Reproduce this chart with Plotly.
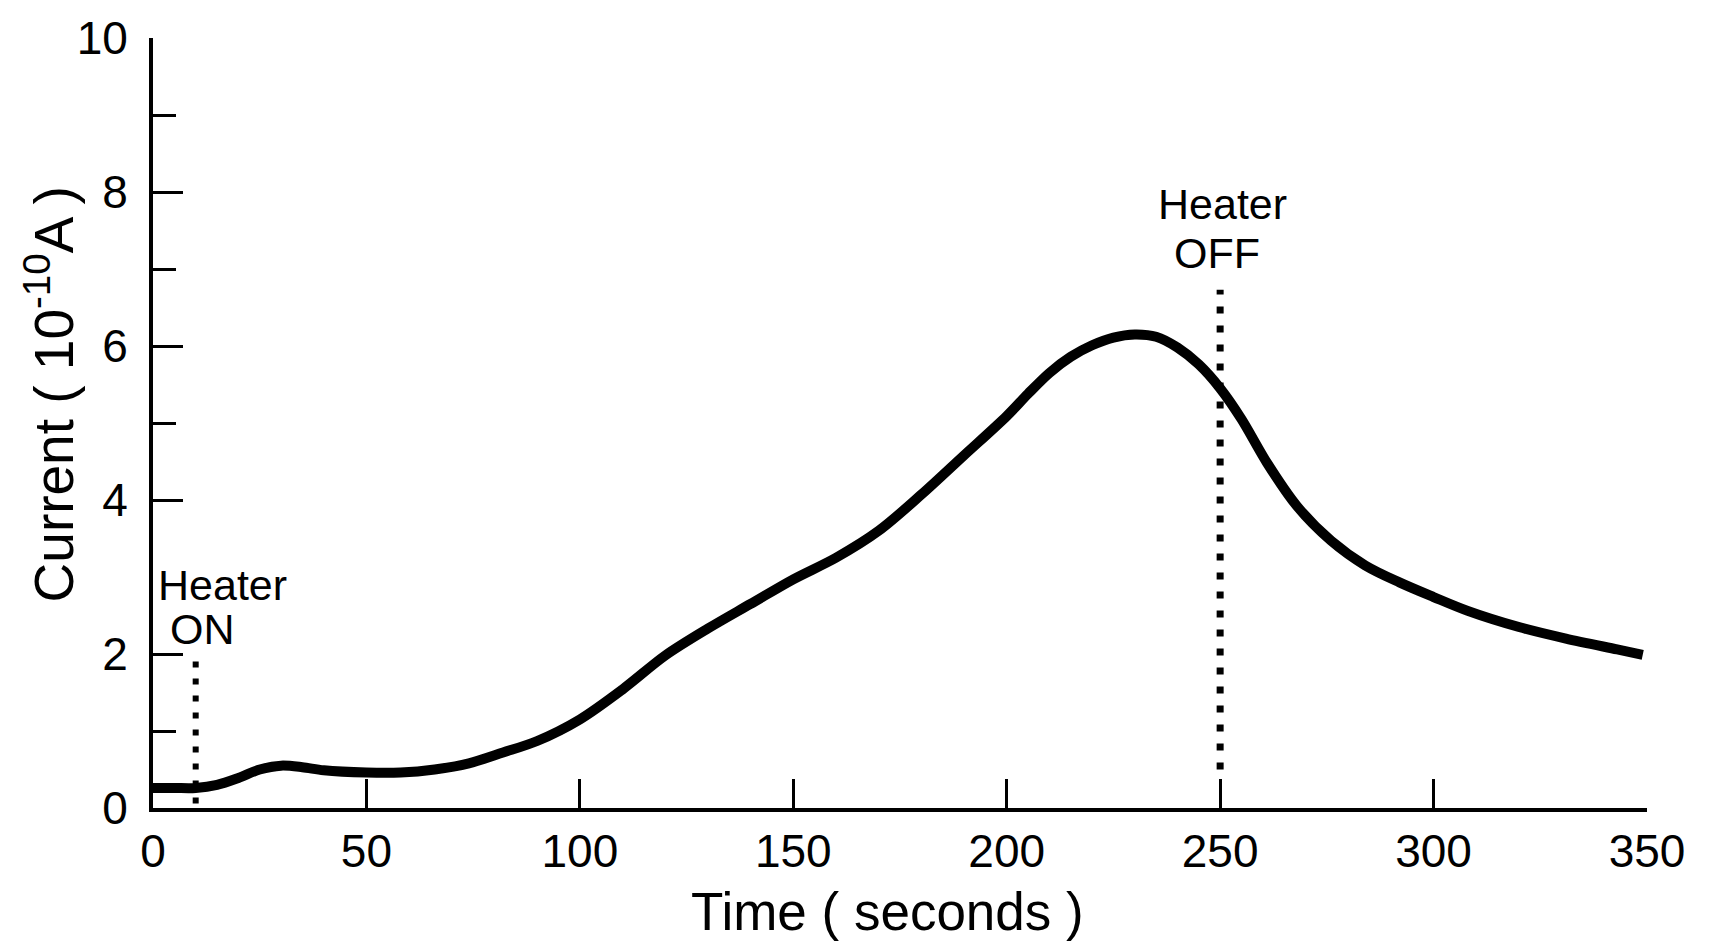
import plotly.graph_objects as go

# Ion current trace recorded while the filament heater is switched on and off
time_s = [0, 5, 10, 15, 20, 25, 30, 35, 40, 50, 58, 66, 74, 82, 90, 100, 110,
          120, 130, 140, 150, 160, 170, 180, 190, 200, 205, 210, 215, 220, 225,
          230, 235, 240, 245, 250, 255, 261, 268, 276, 284, 292, 300, 308, 320,
          331, 343, 349]
current = [0.26, 0.26, 0.26, 0.30, 0.39, 0.50, 0.55, 0.53, 0.49, 0.46, 0.46,
           0.50, 0.58, 0.72, 0.87, 1.15, 1.54, 1.98, 2.33, 2.65, 2.97, 3.25,
           3.60, 4.07, 4.58, 5.09, 5.38, 5.65, 5.86, 6.01, 6.11, 6.15, 6.12,
           5.98, 5.76, 5.45, 5.05, 4.48, 3.92, 3.47, 3.15, 2.93, 2.74, 2.56,
           2.35, 2.20, 2.06, 1.99]

# Heater switching events: (time, bottom and top of the marker line)
heater_on_t = 10
heater_on_span = [0.06, 1.97]
heater_off_t = 250
heater_off_span = [0.50, 6.73]

x_ticks = [0, 50, 100, 150, 200, 250, 300, 350]
y_major = [0, 2, 4, 6, 8, 10]
y_minor = [1, 5, 7, 9]

FONT = "Liberation Sans, Arial, sans-serif"
BLACK = "#000000"

fig = go.Figure()

# dotted markers for heater ON / OFF (drawn under the curve)
fig.add_trace(go.Scatter(
    x=[heater_on_t, heater_on_t], y=heater_on_span, mode="lines",
    line=dict(color=BLACK, width=6, dash="6px,11px"),
    hoverinfo="skip", showlegend=False))
fig.add_trace(go.Scatter(
    x=[heater_off_t, heater_off_t], y=heater_off_span, mode="lines",
    line=dict(color=BLACK, width=7, dash="7px,12px"),
    hoverinfo="skip", showlegend=False))

# measured current
fig.add_trace(go.Scatter(
    x=time_s, y=current, mode="lines",
    line=dict(color=BLACK, width=10, shape="spline", smoothing=0.9),
    showlegend=False))

tickfont = dict(family=FONT, size=46, color=BLACK)

fig.update_xaxes(
    range=[0, 350], tickvals=x_ticks, ticktext=[str(v) for v in x_ticks],
    showline=True, linewidth=4, linecolor=BLACK, mirror=False,
    ticks="inside", ticklen=29, tickwidth=3, tickcolor=BLACK,
    showgrid=False, zeroline=False, tickfont=tickfont, ticklabelstandoff=0)
fig.update_yaxes(
    range=[0, 10], tickvals=y_major, ticktext=[str(v) for v in y_major],
    showline=True, linewidth=4, linecolor=BLACK, mirror=False,
    ticks="inside", ticklen=30, tickwidth=3, tickcolor=BLACK,
    minor=dict(tickvals=y_minor, ticks="inside", ticklen=23, tickwidth=3,
               tickcolor=BLACK, showgrid=False),
    showgrid=False, zeroline=False, tickfont=tickfont, ticklabelstandoff=12)

labelfont = dict(family=FONT, size=43, color=BLACK)
annotations = [
    dict(x=16.3, y=2.90, text="Heater", xanchor="center", yanchor="middle"),
    dict(x=11.6, y=2.33, text="ON", xanchor="center", yanchor="middle"),
    dict(x=250.5, y=7.84, text="Heater", xanchor="center", yanchor="middle"),
    dict(x=249.3, y=7.21, text="OFF", xanchor="center", yanchor="middle"),
]
for a in annotations:
    fig.add_annotation(xref="x", yref="y", showarrow=False, font=labelfont, **a)

# axis titles
fig.add_annotation(
    x=172, y=-0.135, xref="x", yref="paper", text="Time ( seconds )",
    showarrow=False, xanchor="center", yanchor="middle",
    font=dict(family=FONT, size=53, color=BLACK))
fig.add_annotation(
    x=-0.069, y=5.37, xref="paper", yref="y",
    text="Current ( 10<sup>-10</sup>A )", textangle=-90,
    showarrow=False, xanchor="center", yanchor="middle",
    font=dict(family=FONT, size=55, color=BLACK))

fig.update_layout(
    width=1709, height=946,
    margin=dict(l=153, r=62, t=30, b=138),
    paper_bgcolor="white", plot_bgcolor="white",
)

fig.write_html("out.html")
